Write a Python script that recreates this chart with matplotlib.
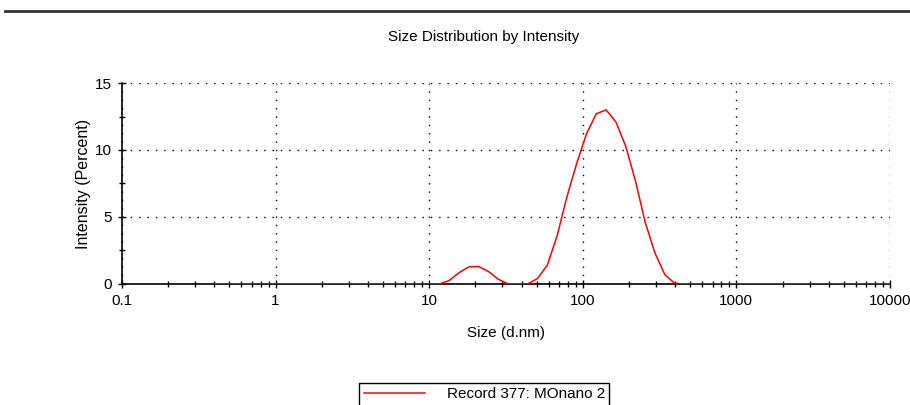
import numpy as np
import matplotlib
matplotlib.use('Agg')
import matplotlib.pyplot as plt
from matplotlib.lines import Line2D
from matplotlib.ticker import LogLocator, FixedLocator, NullFormatter

plt.rcParams['font.family'] = ['Liberation Sans', 'DejaVu Sans']

# size bins (d.nm) and intensity (%)
sizes = [0.4, 11.7, 13.5, 15.7, 18.2, 21.0, 24.4, 28.2, 32.7, 37.8, 43.8,
         50.7, 58.8, 68.1, 78.8, 91.3, 105.7, 122.4, 141.8, 164.2, 190.1,
         220.2, 255.0, 295.3, 342.0, 396.1, 458.7, 10000]
intensity = [0, 0, 0.25, 0.85, 1.28, 1.3, 0.92, 0.35, 0, 0, 0,
             0.4, 1.4, 3.6, 6.5, 9.0, 11.2, 12.7, 13.0, 12.1, 10.3,
             7.7, 4.6, 2.3, 0.7, 0.05, 0, 0]

title = 'Size Distribution by Intensity'
xlabel = 'Size (d.nm)'
ylabel = 'Intensity (Percent)'
legend_label = 'Record 377: MOnano 2'
xticks = [0.1, 1, 10, 100, 1000, 10000]
xticklabels = ['0.1', '1', '10', '100', '1000', '10000']
yticks = [0, 5, 10, 15]

fig = plt.figure(figsize=(9.1, 4.05), dpi=100)
ax = fig.add_axes([0.134, 0.299, 0.844, 0.496])

line, = ax.plot(sizes, intensity, color='#ff0000', lw=1.1, zorder=3)

ax.set_xscale('log')
ax.set_xlim(0.1, 10000)
ax.set_ylim(0, 15)
ax.xaxis.set_major_locator(FixedLocator(xticks))
ax.set_xticklabels(xticklabels)
ax.xaxis.set_minor_locator(LogLocator(base=10, subs=np.arange(2, 10)))
ax.xaxis.set_minor_formatter(NullFormatter())
ax.set_yticks(yticks)
ax.yaxis.set_minor_locator(FixedLocator([2.5, 7.5, 12.5]))

ax.grid(True, which='major', linestyle=(0, (1, 5)), color='black', lw=1.0)
for s in ['top', 'right']:
    ax.spines[s].set_visible(False)
for s in ['left', 'bottom']:
    ax.spines[s].set_color('black')
    ax.spines[s].set_linewidth(1.2)
    ax.spines[s].set_zorder(2)

ax.tick_params(axis='both', which='major', direction='inout', length=6, width=1,
               labelsize=11, pad=4)
ax.tick_params(axis='both', which='minor', direction='inout', length=4, width=1)

ax.set_xlabel(xlabel, fontsize=11, labelpad=13)
ax.set_ylabel(ylabel, fontsize=11.5, labelpad=3)

fig.text(0.532, 0.908, title, ha='center', va='center', fontsize=11)

# rule across the top
fig.add_artist(Line2D([0.005, 1.0], [0.973, 0.973], color='#333333', lw=2))

fig.legend([line], [legend_label], loc='upper left',
           bbox_to_anchor=(0.395, 0.055), fontsize=11, frameon=True,
           fancybox=False, edgecolor='black', framealpha=1,
           handlelength=4.0, handletextpad=1.4, borderpad=0.3,
           borderaxespad=0)

fig.savefig('out.png', dpi=100)
